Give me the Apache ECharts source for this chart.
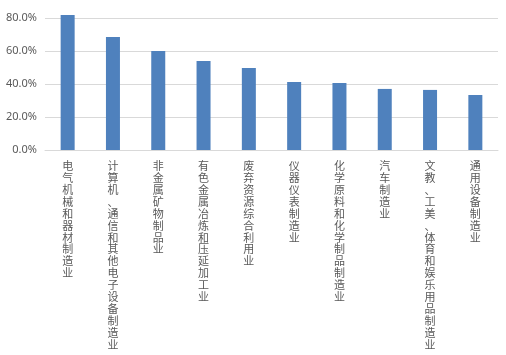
<!DOCTYPE html>
<html><head><meta charset="utf-8">
<script src="https://cdn.jsdelivr.net/npm/echarts@6/dist/echarts.min.js"></script>
<style>html,body{margin:0;padding:0;background:#fff}#c{width:506px;height:355px}</style>
</head><body><div id="c"></div>
<script>
const categories = ['电气机械和器材制造业','计算机、通信和其他电子设备制造业','非金属矿物制品业','有色金属冶炼和压延加工业','废弃资源综合利用业','仪器仪表制造业','化学原料和化学制品制造业','汽车制造业','文教、工美、体育和娱乐用品制造业','通用设备制造业'];
const values = [82.0, 68.7, 60.1, 54.1, 49.8, 41.3, 40.7, 37.1, 36.5, 33.4];
const yTicks = [0, 20, 40, 60, 80];

const chart = echarts.init(document.getElementById('c'), null, {renderer:'canvas'});
chart.setOption({
  animation: false,
  grid: {left: 45, right: 8, top: 18.3, bottom: 205, containLabel: false},
  xAxis: {
    type: 'category', data: categories,
    axisTick: {show: false},
    axisLine: {lineStyle: {color: '#d9d9d9', width: 1}},
    axisLabel: {
      interval: 0, margin: 10, color: '#595959',
      fontFamily: 'Noto Sans CJK SC', fontSize: 11, lineHeight: 11.9,
      verticalAlign: 'top',
      formatter: v => v.split('').join('\n')
    }
  },
  yAxis: {
    type: 'value', min: yTicks[0], max: yTicks[yTicks.length-1], interval: 20,
    axisLine: {show: false}, axisTick: {show: false},
    splitLine: {lineStyle: {color: '#d9d9d9', width: 1}},
    axisLabel: {color: '#595959', fontFamily: 'Noto Sans', fontSize: 11, margin: 8,
      formatter: v => v.toFixed(1) + '%'}
  },
  series: [{
    type: 'bar', data: values, barWidth: 14, clip: false,
    itemStyle: {color: '#4F81BD'}
  }]
});
</script></body></html>
